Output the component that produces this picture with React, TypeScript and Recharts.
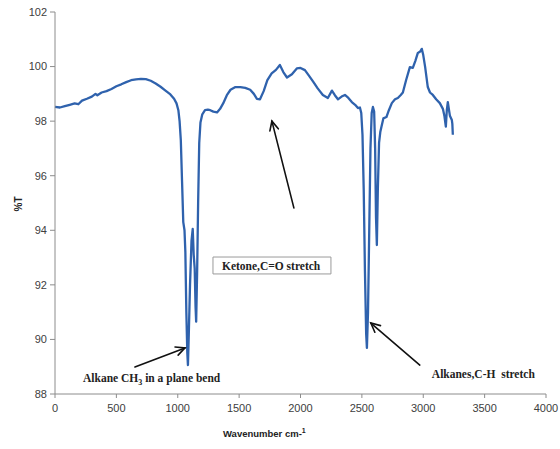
import { LineChart, Line, XAxis, YAxis, ReferenceLine, ReferenceArea, ReferenceDot, Label } from 'recharts';

// wavenumber (cm-1) and %T
const wavenumbers = [
  0, 40, 80, 120, 160, 190, 220, 260, 300, 330, 345, 380, 420, 460, 500, 540, 580, 620, 660, 700,
  740, 780, 820, 860, 900, 940, 970, 990, 1005, 1015, 1025, 1035, 1045, 1055, 1062, 1070, 1078, 1083,
  1090, 1100, 1112, 1122, 1130, 1138, 1145, 1150, 1158, 1166, 1175, 1185, 1200, 1222, 1245, 1265, 1290,
  1320, 1345, 1370, 1400, 1430, 1470, 1510, 1550, 1590, 1620, 1645, 1670, 1700, 1730, 1765, 1800, 1832,
  1860, 1890, 1930, 1970, 2000, 2036, 2070, 2103, 2140, 2182, 2223, 2256, 2280, 2305, 2335, 2362, 2390,
  2418, 2445, 2468, 2484, 2495, 2505, 2515, 2525, 2535, 2541, 2550, 2560, 2570, 2580, 2590, 2600, 2608,
  2615, 2622, 2630, 2640, 2650, 2660, 2675, 2700, 2720, 2744, 2770, 2793, 2815, 2834, 2860, 2891, 2915,
  2935, 2956, 2975, 2988, 3000, 3015, 3037, 3055, 3078, 3105, 3135, 3160, 3172, 3184, 3192, 3200, 3210,
  3217, 3233, 3237, 3241,
];
const transmittance = [
  98.52, 98.5, 98.55, 98.6, 98.65, 98.62, 98.75, 98.82, 98.9, 99.0, 98.95, 99.05, 99.1, 99.18, 99.28, 99.35, 99.43, 99.5, 99.53, 99.55,
  99.54, 99.48, 99.38, 99.26, 99.12, 98.98, 98.82, 98.65, 98.4, 98.0, 97.3, 95.8, 94.3, 94.0, 93.2, 91.0, 89.5, 89.06,
  90.2, 92.0, 93.6, 94.05, 93.1, 92.6, 91.2, 90.65, 92.5, 95.0, 97.2, 97.95, 98.25, 98.4, 98.42, 98.4, 98.35,
  98.32, 98.45, 98.65, 98.95, 99.15, 99.25, 99.25, 99.22, 99.15, 99.0, 98.82, 98.8, 99.1, 99.5, 99.75, 99.88, 100.06,
  99.8, 99.6, 99.72, 99.93, 99.95, 99.87, 99.66, 99.45, 99.2, 98.96, 98.85, 99.12, 98.95, 98.8, 98.9, 98.96, 98.85,
  98.7, 98.6, 98.48, 98.5, 98.3, 97.5, 95.5, 92.5, 90.2, 89.69, 91.0, 94.0, 97.0, 98.3, 98.52, 98.35, 97.0,
  94.5, 93.46, 95.5, 97.2, 97.6, 97.8, 98.1, 98.15, 98.4, 98.66, 98.8, 98.85, 98.95, 99.05, 99.5, 99.98, 99.95,
  100.2, 100.5, 100.55, 100.65, 100.42, 100.0, 99.25, 99.05, 98.96, 98.8, 98.66, 98.45, 98.2, 97.8, 98.4, 98.7, 98.4,
  98.2, 98.04, 97.9, 97.5,
];

const xTicks = [0, 500, 1000, 1500, 2000, 2500, 3000, 3500, 4000];
const yTicks = [88, 90, 92, 94, 96, 98, 100, 102];

// annotation arrows: [tail, head] in data units
const arrows = [
  [{ x: 651, y: 88.99 }, { x: 1059, y: 89.69 }],
  [{ x: 1946, y: 94.82 }, { x: 1767, y: 98.0 }],
  [{ x: 2972, y: 89.06 }, { x: 2573, y: 90.6 }],
];

const data = wavenumbers.map((w, i) => ({ w, t: transmittance[i] }));

const serif = '"Liberation Serif", "Times New Roman", serif';
const sans = '"Liberation Sans", Arial, sans-serif';

const Arrow = (props: any) => {
  const { x1, y1, x2, y2 } = props;
  const a = Math.atan2(y2 - y1, x2 - x1);
  const len = 10;
  const spread = 0.45;
  const p1 = [x2 - len * Math.cos(a - spread), y2 - len * Math.sin(a - spread)];
  const p2 = [x2 - len * Math.cos(a + spread), y2 - len * Math.sin(a + spread)];
  return (
    <g stroke="#111" strokeWidth={1.6} fill="none" strokeLinecap="round">
      <line x1={x1} y1={y1} x2={x2} y2={y2} />
      <polyline points={`${p1[0]},${p1[1]} ${x2},${y2} ${p2[0]},${p2[1]}`} />
    </g>
  );
};

const noteText = (children: any) => (props: any) => {
  const vb = props.viewBox || {};
  const x = (vb.x || 0) + (vb.width || 0) / 2;
  const y = (vb.y || 0) + (vb.height || 0) / 2;
  return (
    <text x={x} y={y} dy="0.35em" fontFamily={serif} fontWeight="bold" fontSize={11.5} fill="#222">
      {children}
    </text>
  );
};

export default function App() {
  return (
    <div style={{ position: 'absolute', left: 0, top: 0, background: '#fff' }}>
      <LineChart width={560} height={449} data={data} margin={{ top: 12, right: 14, bottom: 15, left: 10 }}>
        <XAxis
          dataKey="w"
          type="number"
          domain={[0, 4000]}
          ticks={xTicks}
          height={40}
          stroke="#8c8c8c"
          tickSize={4}
          tickMargin={6}
          tick={{ fill: '#404040', fontSize: 11, fontFamily: sans }}
        >
          <Label
            content={(p: any) => {
              const vb = p.viewBox;
              return (
                <text x={vb.x + 168} y={vb.y + 43} fontFamily={sans} fontWeight="bold" fontSize={9.5} fill="#222">
                  Wavenumber cm-<tspan dy={-4} fontSize={7}>1</tspan>
                </text>
              );
            }}
          />
        </XAxis>
        <YAxis
          type="number"
          domain={[88, 102]}
          ticks={yTicks}
          width={45}
          stroke="#8c8c8c"
          tickSize={5}
          tickMargin={3}
          tick={{ fill: '#404040', fontSize: 11, fontFamily: sans }}
        >
          <Label
            content={(p: any) => {
              const vb = p.viewBox;
              const cx = vb.x + 8;
              const cy = vb.y + vb.height / 2 + 1;
              return (
                <text x={cx} y={cy} transform={`rotate(-90 ${cx} ${cy})`} textAnchor="middle" dy="0.35em" fontFamily={sans} fontWeight="bold" fontSize={10} fill="#222">
                  %T
                </text>
              );
            }}
          />
        </YAxis>
        <Line
          type="linear"
          dataKey="t"
          stroke="#2f62ad"
          strokeWidth={2.3}
          dot={false}
          strokeLinejoin="round"
          isAnimationActive={false}
        />
        <ReferenceArea
          x1={1287}
          x2={2248}
          y1={92.4}
          y2={93.02}
          fill="#fff"
          fillOpacity={1}
          stroke="#9a9a9a"
          strokeWidth={1}
        />
        <ReferenceDot x={1360} y={92.7} r={0} stroke="none" label={{ content: noteText('Ketone,C=O stretch') }} />
        <ReferenceDot
          x={228}
          y={88.59}
          r={0}
          stroke="none"
          label={{
            content: noteText(
              <>
                Alkane CH<tspan dy={3} fontSize={8}>3</tspan>
                <tspan dy={-3}> in a plane bend</tspan>
              </>
            ),
          }}
        />
        <ReferenceDot x={3070} y={88.73} r={0} stroke="none" label={{ content: noteText('Alkanes,C-H\u00a0 stretch') }} />
        {arrows.map((seg, i) => (
          <ReferenceLine key={i} segment={seg} shape={Arrow} />
        ))}
      </LineChart>
    </div>
  );
}
